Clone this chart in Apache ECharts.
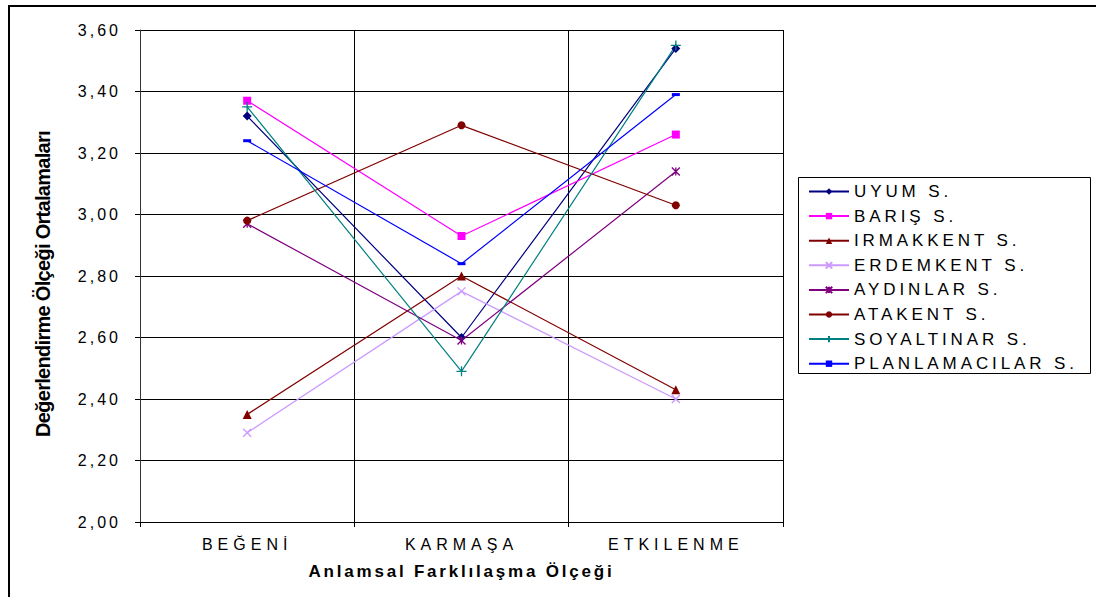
<!DOCTYPE html>
<html>
<head>
<meta charset="utf-8">
<script src="https://cdn.jsdelivr.net/npm/echarts@6/dist/echarts.min.js"></script>
<style>
  html, body { margin: 0; padding: 0; background: #fff; }
  #chart { width: 1096px; height: 597px; }
</style>
</head>
<body>
<div id="chart"></div>
<script>
const categories = ["BEĞENİ", "KARMAŞA", "ETKILENME"];

const uyum = [3.32, 2.60, 3.54];
const baris = [3.37, 2.93, 3.26];
const irmakkent = [2.35, 2.80, 2.43];
const erdemkent = [2.29, 2.75, 2.40];
const aydinlar = [2.97, 2.59, 3.14];
const atakent = [2.98, 3.29, 3.03];
const soyaltinar = [3.35, 2.49, 3.55];
const planlamacilar = [3.24, 2.84, 3.39];

const xTitle = "Anlamsal Farklılaşma Ölçeği";
const yTitle = "Değerlendirme Ölçeği Ortalamaları";

const font = "Liberation Sans, Arial, sans-serif";

const crossPath = "path://M0,0L10,10M10,0L0,10";
const starPath = "path://M0,0L10,10M10,0L0,10M5,0L5,10";
const plusPath = "path://M5,0L5,10M0,5L10,5";

function line(name, data, color, symbol, size, stroke) {
  return {
    name,
    type: "line",
    data,
    symbol,
    symbolSize: size,
    lineStyle: { color, width: 1.2 },
    itemStyle: stroke
      ? { color: "transparent", borderColor: color, borderWidth: 1.3 }
      : { color, borderColor: color, borderWidth: 0 },
  };
}

const chart = echarts.init(document.getElementById("chart"), null, { renderer: "svg" });
chart.setOption({
  animation: false,
  backgroundColor: "#fff",
  grid: { left: 140, top: 30, width: 643, height: 492 },
  xAxis: {
    type: "category",
    data: categories,
    boundaryGap: true,
    axisLine: { lineStyle: { color: "#000", width: 1 } },
    axisTick: { show: true, length: 5, lineStyle: { color: "#000" } },
    splitLine: { show: true, lineStyle: { color: "#000", width: 1 } },
    axisLabel: { color: "#000", fontSize: 16, fontFamily: font, margin: 14 },
    name: xTitle,
    nameLocation: "middle",
    nameGap: 41,
    nameTextStyle: { color: "#000", fontSize: 17, fontWeight: "bold", fontFamily: font },
  },
  yAxis: {
    type: "value",
    min: 2,
    max: 3.6,
    interval: 0.2,
    axisLine: { show: true, lineStyle: { color: "#333", width: 1 } },
    axisTick: { show: true, length: 5, lineStyle: { color: "#000" } },
    splitLine: { show: true, lineStyle: { color: "#000", width: 1 } },
    axisLabel: {
      color: "#000",
      fontSize: 16,
      fontFamily: font,
      margin: 19,
      formatter: (v) => v.toFixed(2).replace(".", ","),
    },
    name: yTitle,
    nameLocation: "middle",
    nameGap: 87,
    nameRotate: 90,
    nameTextStyle: {
      color: "#000",
      fontSize: 20,
      fontWeight: "bold",
      fontFamily: font,
      padding: [0, 16, 0, 0],
    },
  },
  legend: {
    orient: "vertical",
    left: 798,
    top: 177,
    padding: [6, 10, 6, 10],
    itemWidth: 40,
    itemHeight: 8,
    itemGap: 7.6,
    textStyle: { color: "#000", fontSize: 17, lineHeight: 17, fontFamily: font },
  },
  graphic: [
    { type: "line", shape: { x1: 8, y1: 6, x2: 1096, y2: 6 }, style: { stroke: "#000", lineWidth: 2 } },
    { type: "line", shape: { x1: 9, y1: 6, x2: 9, y2: 597 }, style: { stroke: "#000", lineWidth: 2 } },
    { type: "rect", shape: { x: 798.5, y: 177.5, width: 292, height: 196 }, style: { fill: "none", stroke: "#000", lineWidth: 1 } },
  ],
  series: [
    line("UYUM S.", uyum, "#000080", "diamond", 9),
    line("BARIŞ S.", baris, "#FF00FF", "rect", 8),
    line("IRMAKKENT S.", irmakkent, "#800000", "triangle", 9),
    line("ERDEMKENT S.", erdemkent, "#CC99FF", crossPath, 8, true),
    line("AYDINLAR S.", aydinlar, "#800080", starPath, 8, true),
    line("ATAKENT S.", atakent, "#800000", "circle", 8),
    line("SOYALTINAR S.", soyaltinar, "#008080", plusPath, 10, true),
    line("PLANLAMACILAR S.", planlamacilar, "#0000FF", "rect", [8, 3]),
  ],
});

// the source chart draws its texts with wide letter spacing
document.querySelectorAll("#chart text").forEach((t) => {
  const s = t.textContent;
  let sp = 3.9;
  if (s === xTitle) sp = 2.8;
  else if (s === yTitle) sp = -0.7;
  else if (/^\d,\d\d$/.test(s)) sp = 3;
  else if (categories.includes(s)) sp = 5;
  t.setAttribute("letter-spacing", sp);
});
</script>
</body>
</html>
